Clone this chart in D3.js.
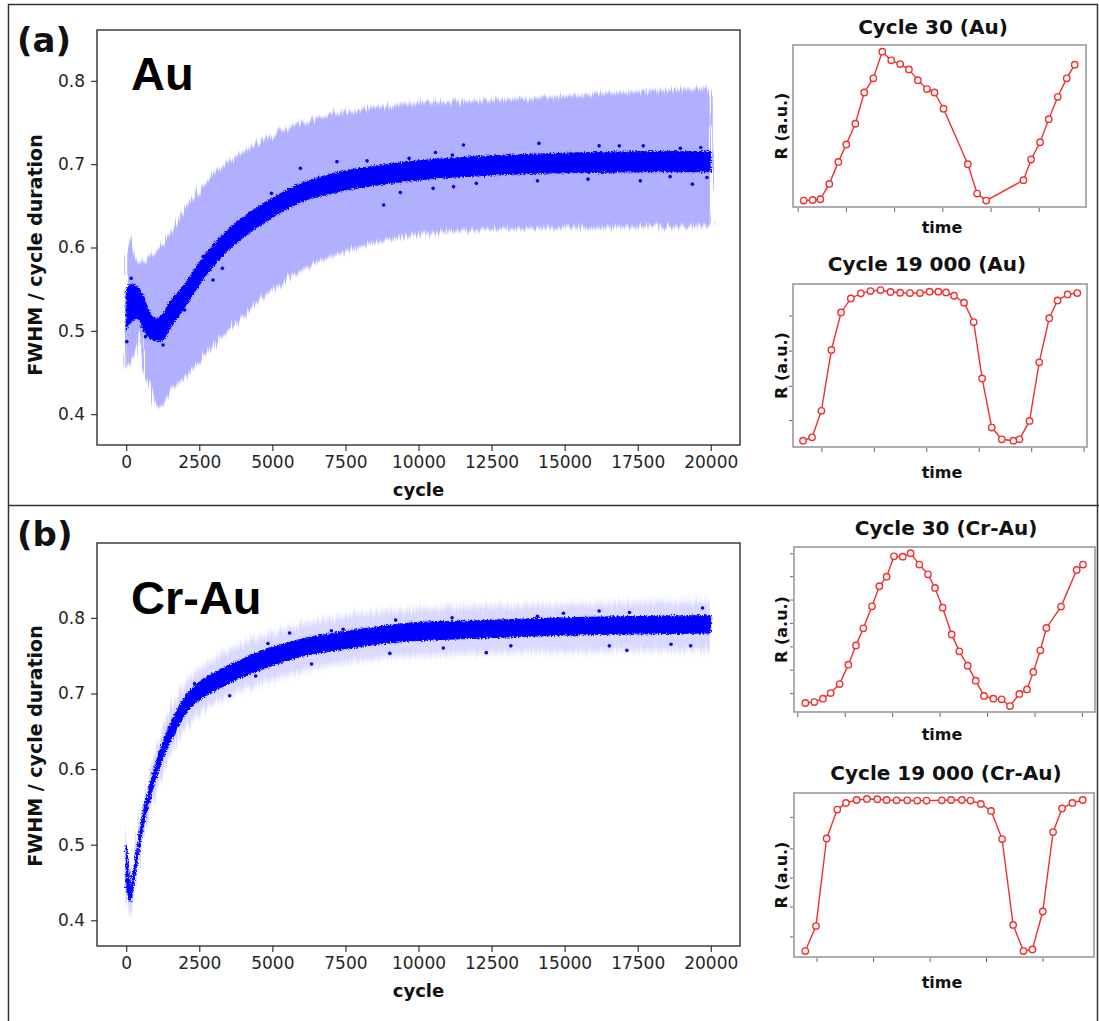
<!DOCTYPE html>
<html>
<head>
<meta charset="utf-8">
<script src="https://cdn.jsdelivr.net/npm/d3@7"></script>
<style>
  body { margin: 0; background: #fff; }
  svg { display: block; }
</style>
</head>
<body>
<svg id="fig" width="1099" height="1021"></svg>
<script>
// ---------- main panels: FWHM / cycle duration vs cycle ----------
const mainXTicks = [0, 2500, 5000, 7500, 10000, 12500, 15000, 17500, 20000];
const mainYTicks = [0.4, 0.5, 0.6, 0.7, 0.8];

// Au: dense scatter envelope (low / high) along the cycle axis
const auCoreCycle = [0, 150, 400, 600, 800, 1000, 1200, 1500, 2000, 2500, 3000, 3500, 4000, 5000, 6000, 7000, 8000, 9000, 10000, 12000, 14000, 16000, 18000, 20000];
const auCoreLow   = [0.500, 0.510, 0.515, 0.500, 0.492, 0.488, 0.488, 0.503, 0.528, 0.555, 0.578, 0.597, 0.612, 0.636, 0.655, 0.665, 0.672, 0.677, 0.681, 0.686, 0.689, 0.690, 0.691, 0.691];
const auCoreHigh  = [0.548, 0.556, 0.552, 0.540, 0.522, 0.515, 0.518, 0.535, 0.556, 0.582, 0.604, 0.622, 0.636, 0.659, 0.677, 0.688, 0.695, 0.700, 0.704, 0.709, 0.712, 0.714, 0.715, 0.715];
// Au: spread band
const auBandCycle = [0, 100, 180, 300, 460, 540, 700, 900, 1100, 1300, 1500, 2000, 2500, 3000, 3500, 4000, 5000, 6000, 7000, 8000, 9000, 10000, 12000, 14000, 16000, 18000, 20000];
const auBandHigh  = [0.590, 0.605, 0.612, 0.590, 0.582, 0.583, 0.585, 0.592, 0.598, 0.606, 0.617, 0.645, 0.669, 0.689, 0.703, 0.715, 0.735, 0.749, 0.759, 0.765, 0.770, 0.773, 0.776, 0.780, 0.784, 0.788, 0.791];
const auBandLow   = [0.455, 0.462, 0.468, 0.472, 0.500, 0.462, 0.440, 0.420, 0.408, 0.412, 0.426, 0.445, 0.465, 0.483, 0.501, 0.517, 0.549, 0.573, 0.589, 0.601, 0.609, 0.615, 0.621, 0.623, 0.624, 0.625, 0.625];
// Au: isolated points outside the dense cloud
const auOutCycle = [20, 170, 660, 1260, 2000, 2630, 2970, 3290, 4220, 4970, 5960, 7210, 8240, 8810, 9380, 9680, 10500, 10580, 11160, 11200, 11540, 11980, 14070, 14120, 15800, 16180, 16870, 17590, 17690, 18610, 18960, 19370, 19660, 19870];
const auOutValue = [0.487, 0.563, 0.493, 0.483, 0.525, 0.589, 0.561, 0.575, 0.641, 0.665, 0.695, 0.703, 0.704, 0.651, 0.666, 0.707, 0.671, 0.714, 0.711, 0.673, 0.723, 0.677, 0.680, 0.725, 0.682, 0.722, 0.722, 0.680, 0.722, 0.685, 0.719, 0.676, 0.720, 0.684];

// Cr-Au: dense scatter envelope
const crCoreCycle = [0, 50, 150, 250, 350, 570, 800, 1085, 1370, 1712, 2000, 2400, 3000, 4000, 5000, 6000, 7000, 8000, 9000, 10000, 12000, 14000, 16000, 18000, 20000];
const crCoreLow   = [0.440, 0.435, 0.424, 0.447, 0.470, 0.521, 0.558, 0.596, 0.625, 0.652, 0.671, 0.688, 0.703, 0.722, 0.737, 0.749, 0.756, 0.762, 0.767, 0.770, 0.773, 0.776, 0.778, 0.779, 0.780];
const crCoreHigh  = [0.500, 0.482, 0.446, 0.468, 0.490, 0.541, 0.578, 0.617, 0.647, 0.676, 0.695, 0.712, 0.727, 0.746, 0.761, 0.772, 0.779, 0.785, 0.790, 0.794, 0.796, 0.799, 0.801, 0.802, 0.803];
// Cr-Au: spread band
const crBandCycle = [0, 150, 350, 570, 1085, 2000, 3000, 5000, 10000, 15000, 20000];
const crBandHigh  = [0.525, 0.462, 0.505, 0.557, 0.634, 0.712, 0.745, 0.780, 0.812, 0.818, 0.822];
const crBandLow   = [0.428, 0.405, 0.455, 0.505, 0.578, 0.652, 0.685, 0.718, 0.750, 0.755, 0.757];
// Cr-Au: isolated points
const crOutCycle = [2340, 3540, 4430, 4850, 5590, 6340, 7020, 7420, 9020, 9220, 10850, 11150, 12320, 13160, 14070, 14960, 16180, 16530, 17130, 17220, 18640, 19310, 19720];
const crOutValue = [0.713, 0.697, 0.723, 0.766, 0.780, 0.739, 0.783, 0.785, 0.753, 0.797, 0.760, 0.800, 0.754, 0.763, 0.802, 0.806, 0.809, 0.763, 0.757, 0.807, 0.765, 0.763, 0.813];

// ---------- single-cycle reflectance traces ----------
const au30Time = [0.124, 0.311, 0.470, 0.656, 0.843, 1.008, 1.195, 1.381, 1.568, 1.754, 1.941, 2.127, 2.307, 2.493, 2.680, 2.838, 3.025, 3.529, 3.722, 3.909, 4.682, 4.841, 5.028, 5.207, 5.394, 5.580, 5.746];
const au30R    = [0.000, 0.004, 0.009, 0.112, 0.260, 0.377, 0.516, 0.726, 0.821, 1.000, 0.942, 0.917, 0.881, 0.809, 0.749, 0.726, 0.617, 0.244, 0.047, 0.000, 0.137, 0.276, 0.392, 0.547, 0.697, 0.821, 0.913];

const au19kTime = [-0.350, -0.178, 0.000, 0.191, 0.376, 0.561, 0.752, 0.936, 1.127, 1.318, 1.503, 1.688, 1.879, 2.064, 2.229, 2.376, 2.529, 2.720, 2.904, 3.064, 3.248, 3.439, 3.662, 3.777, 3.968, 4.153, 4.344, 4.503, 4.694, 4.879];
const au19kR    = [0.000, 0.022, 0.198, 0.602, 0.851, 0.944, 0.978, 0.993, 1.000, 0.987, 0.982, 0.980, 0.980, 0.989, 0.989, 0.984, 0.962, 0.916, 0.787, 0.413, 0.087, 0.009, 0.000, 0.009, 0.131, 0.520, 0.813, 0.931, 0.971, 0.980];

const cr30Time = [0.169, 0.358, 0.541, 0.703, 0.892, 1.075, 1.237, 1.391, 1.574, 1.729, 1.883, 2.038, 2.221, 2.389, 2.572, 2.755, 2.902, 3.064, 3.254, 3.415, 3.591, 3.760, 3.935, 4.132, 4.308, 4.483, 4.680, 4.842, 4.975, 5.123, 5.250, 5.559, 5.889, 6.022];
const cr30R    = [0.020, 0.026, 0.048, 0.085, 0.144, 0.271, 0.397, 0.509, 0.653, 0.784, 0.847, 0.980, 0.978, 1.000, 0.926, 0.862, 0.773, 0.644, 0.469, 0.358, 0.264, 0.166, 0.066, 0.048, 0.044, 0.000, 0.079, 0.109, 0.223, 0.365, 0.511, 0.651, 0.891, 0.926];

const cr19kTime = [-0.201, -0.012, 0.177, 0.366, 0.519, 0.708, 0.891, 1.074, 1.239, 1.416, 1.605, 1.782, 1.947, 2.218, 2.383, 2.572, 2.726, 2.909, 3.091, 3.286, 3.481, 3.664, 3.823, 4.006, 4.189, 4.348, 4.531, 4.714];
const cr19kR    = [0.000, 0.164, 0.740, 0.930, 0.974, 0.993, 1.000, 0.998, 0.993, 0.991, 0.991, 0.989, 0.989, 0.991, 0.993, 0.993, 0.989, 0.967, 0.921, 0.736, 0.172, 0.000, 0.011, 0.260, 0.782, 0.937, 0.974, 0.993];

// ---------- drawing ----------
const svg = d3.select("#fig");
const defs = svg.append("defs");
const fontTick = "'DejaVu Sans', sans-serif";

// band edges: streaky vertical fringe, then a slight vertical softening
function bandFilter(id, freq, scale, blurY) {
  const f = defs.append("filter").attr("id", id)
    .attr("x", "-3%").attr("y", "-25%").attr("width", "106%").attr("height", "150%");
  f.append("feTurbulence").attr("type", "fractalNoise").attr("baseFrequency", freq)
    .attr("numOctaves", 2).attr("seed", 7).attr("result", "n");
  f.append("feDisplacementMap").attr("in", "SourceGraphic").attr("in2", "n").attr("scale", scale)
    .attr("xChannelSelector", "B").attr("yChannelSelector", "G").attr("result", "d");
  f.append("feGaussianBlur").attr("in", "d").attr("stdDeviation", `0.3 ${blurY}`);
}
bandFilter("bandSoftA", "0.55 0.012", 14, 1.6);
bandFilter("bandSoftB", "0.55 0.012", 12, 3);

// dense scatter cloud: grainy edge
const cf = defs.append("filter").attr("id", "coreSoft")
  .attr("x", "-3%").attr("y", "-20%").attr("width", "106%").attr("height", "140%");
cf.append("feTurbulence").attr("type", "fractalNoise").attr("baseFrequency", 0.7)
  .attr("numOctaves", 1).attr("seed", 3).attr("result", "n");
cf.append("feDisplacementMap").attr("in", "SourceGraphic").attr("in2", "n").attr("scale", 6)
  .attr("xChannelSelector", "R").attr("yChannelSelector", "G");

// figure frame and divider between panels
svg.append("rect").attr("x", 8.5).attr("y", 4.5).attr("width", 1089).attr("height", 1020)
  .attr("fill", "none").attr("stroke", "#333").attr("stroke-width", 1.5);
svg.append("line").attr("x1", 8).attr("x2", 1099).attr("y1", 505.5).attr("y2", 505.5)
  .attr("stroke", "#333").attr("stroke-width", 1.5);

function zip3(c, a, b) { return c.map((v, i) => ({ c: v, lo: a[i], hi: b[i] })); }

function mainPanel(cfg) {
  const x = d3.scaleLinear().domain([-1000, 21000]).range([97, 740]);
  const y = d3.scaleLinear().domain(cfg.yDomain).range([cfg.bottom, cfg.top]);
  const g = svg.append("g");

  const clipId = "clip-" + cfg.id;
  defs.append("clipPath").attr("id", clipId).append("rect")
    .attr("x", 97).attr("y", cfg.top).attr("width", 643).attr("height", cfg.bottom - cfg.top);

  const plot = g.append("g").attr("clip-path", `url(#${clipId})`);
  const area = d3.area().x(d => x(d.c)).y0(d => y(d.lo)).y1(d => y(d.hi)).curve(d3.curveMonotoneX);

  plot.append("g").attr("filter", `url(#${cfg.bandFilter})`)
    .append("path").datum(zip3(cfg.bandC, cfg.bandLo, cfg.bandHi))
    .attr("d", area).attr("fill", "#0000ff").attr("fill-opacity", cfg.bandOpacity);

  plot.append("g").attr("filter", "url(#coreSoft)")
    .append("path").datum(zip3(cfg.coreC, cfg.coreLo, cfg.coreHi))
    .attr("d", area).attr("fill", "#0000ff").attr("stroke", "#0000ff").attr("stroke-width", 1);

  plot.selectAll("circle.out").data(cfg.outC.map((c, i) => ({ c, v: cfg.outV[i] })))
    .join("circle").attr("class", "out")
    .attr("cx", d => x(d.c)).attr("cy", d => y(d.v)).attr("r", 1.8).attr("fill", "#0000ff");

  // axes
  const xa = g.append("g").attr("transform", `translate(0,${cfg.bottom})`)
    .call(d3.axisBottom(x).tickValues(mainXTicks).tickFormat(d3.format("d")).tickSize(6).tickPadding(5));
  const ya = g.append("g").attr("transform", "translate(97,0)")
    .call(d3.axisLeft(y).tickValues(mainYTicks).tickFormat(d3.format(".1f")).tickSize(6).tickPadding(6));
  [xa, ya].forEach(a => {
    a.select(".domain").remove();
    a.selectAll("text").attr("font-family", fontTick).attr("font-size", 17).attr("fill", "#262626");
    a.selectAll("line").attr("stroke", "#222").attr("stroke-width", 1.1);
  });

  g.append("rect").attr("x", 97).attr("y", cfg.top).attr("width", 643).attr("height", cfg.bottom - cfg.top)
    .attr("fill", "none").attr("stroke", "#222").attr("stroke-width", 1.3);

  g.append("text").attr("x", 418.5).attr("y", cfg.bottom + 51).attr("text-anchor", "middle")
    .attr("font-family", fontTick).attr("font-weight", "bold").attr("font-size", 18).attr("fill", "#111")
    .text("cycle");
  g.append("text").attr("transform", `translate(42,${cfg.yLabelMid}) rotate(-90)`).attr("text-anchor", "middle")
    .attr("font-family", fontTick).attr("font-weight", "bold").attr("font-size", 19).attr("fill", "#111")
    .text("FWHM / cycle duration");

  g.append("text").attr("x", 131).attr("y", cfg.nameY)
    .attr("font-family", "'Liberation Sans', Arial, sans-serif").attr("font-weight", "bold")
    .attr("font-size", 47).attr("fill", "#000").text(cfg.name);
  g.append("text").attr("x", 17).attr("y", cfg.letterY)
    .attr("font-family", fontTick).attr("font-weight", "bold")
    .attr("font-size", 34).attr("fill", "#111").text(cfg.letter);
}

mainPanel({
  id: "au", top: 30, bottom: 445, yDomain: [0.363, 0.861], yLabelMid: 255,
  coreC: auCoreCycle, coreLo: auCoreLow, coreHi: auCoreHigh,
  bandC: auBandCycle, bandLo: auBandLow, bandHi: auBandHigh, bandOpacity: 0.31, bandFilter: "bandSoftA",
  outC: auOutCycle, outV: auOutValue, name: "Au", nameY: 90, letter: "(a)", letterY: 52
});
mainPanel({
  id: "cr", top: 543, bottom: 946, yDomain: [0.366, 0.899], yLabelMid: 746,
  coreC: crCoreCycle, coreLo: crCoreLow, coreHi: crCoreHigh,
  bandC: crBandCycle, bandLo: crBandLow, bandHi: crBandHigh, bandOpacity: 0.15, bandFilter: "bandSoftB",
  outC: crOutCycle, outV: crOutValue, name: "Cr-Au", nameY: 614, letter: "(b)", letterY: 546
});

function inset(cfg) {
  const x = d3.scaleLinear().domain(cfg.xDomain).range([cfg.left, cfg.right]);
  const y = d3.scaleLinear().domain(cfg.yDomain).range([cfg.bottom, cfg.top]);
  const g = svg.append("g");

  g.append("rect").attr("x", cfg.left).attr("y", cfg.top)
    .attr("width", cfg.right - cfg.left).attr("height", cfg.bottom - cfg.top)
    .attr("fill", "#fff").attr("stroke", "#9a9a9a").attr("stroke-width", 1.6);

  const xa = g.append("g").attr("transform", `translate(0,${cfg.bottom + 1})`)
    .call(d3.axisBottom(x).tickValues(cfg.xTicks).tickSize(4).tickFormat(""));
  const ya = g.append("g").attr("transform", `translate(${cfg.left - 1},0)`)
    .call(d3.axisLeft(y).tickValues(cfg.yTicks).tickSize(3).tickFormat(""));
  [xa, ya].forEach(a => {
    a.select(".domain").remove();
    a.selectAll("line").attr("stroke", "#666").attr("stroke-width", 1);
  });

  const pts = cfg.t.map((t, i) => ({ t, r: cfg.r[i] }));
  g.append("path").datum(pts)
    .attr("d", d3.line().x(d => x(d.t)).y(d => y(d.r)))
    .attr("fill", "none").attr("stroke", "#f03030").attr("stroke-width", 1.4);
  g.selectAll("circle.pt").data(pts).join("circle").attr("class", "pt")
    .attr("cx", d => x(d.t)).attr("cy", d => y(d.r)).attr("r", 3.2)
    .attr("fill", "#fff").attr("stroke", "#f03030").attr("stroke-width", 1.4);

  g.append("text").attr("x", cfg.titleX).attr("y", cfg.titleY).attr("text-anchor", "middle")
    .attr("font-family", fontTick).attr("font-weight", "bold").attr("font-size", 20).attr("fill", "#111")
    .text(cfg.title);
  g.append("text").attr("x", 942).attr("y", cfg.timeY).attr("text-anchor", "middle")
    .attr("font-family", fontTick).attr("font-weight", "bold").attr("font-size", 16).attr("fill", "#111")
    .text("time");
  g.append("text").attr("transform", `translate(787,${(cfg.top + cfg.bottom) / 2}) rotate(-90)`)
    .attr("text-anchor", "middle")
    .attr("font-family", fontTick).attr("font-weight", "bold").attr("font-size", 16).attr("fill", "#111")
    .text("R (a.u.)");
}

inset({ left: 793, right: 1086, top: 45, bottom: 207, xDomain: [-0.097, 5.98], yDomain: [-0.043, 1.045],
  xTicks: [0, 1, 2, 3, 4, 5], yTicks: [], t: au30Time, r: au30R,
  title: "Cycle 30 (Au)", titleX: 933, titleY: 34, timeY: 233 });
inset({ left: 793, right: 1087, top: 284, bottom: 447, xDomain: [-0.541, 5.064], yDomain: [-0.042, 1.04],
  xTicks: [0, 1, 2, 3, 4, 5], yTicks: [0.136, 0.364, 0.598, 0.831], t: au19kTime, r: au19kR,
  title: "Cycle 19 000 (Au)", titleX: 927, titleY: 271, timeY: 478 });
inset({ left: 794, right: 1095, top: 547, bottom: 712, xDomain: [-0.070, 6.275], yDomain: [-0.039, 1.041],
  xTicks: [0, 1, 2, 3, 4, 5, 6], yTicks: [0.085, 0.238, 0.391, 0.544, 0.697, 0.85, 1.0], t: cr30Time, r: cr30R,
  title: "Cycle 30 (Cr-Au)", titleX: 946, titleY: 535, timeY: 740 });
inset({ left: 794, right: 1094, top: 793, bottom: 957, xDomain: [-0.401, 4.914], yDomain: [-0.039, 1.039],
  xTicks: [0, 1, 2, 3, 4], yTicks: [0.096, 0.293, 0.483, 0.675, 0.882], t: cr19kTime, r: cr19kR,
  title: "Cycle 19 000 (Cr-Au)", titleX: 946, titleY: 780, timeY: 988 });
</script>
</body>
</html>
